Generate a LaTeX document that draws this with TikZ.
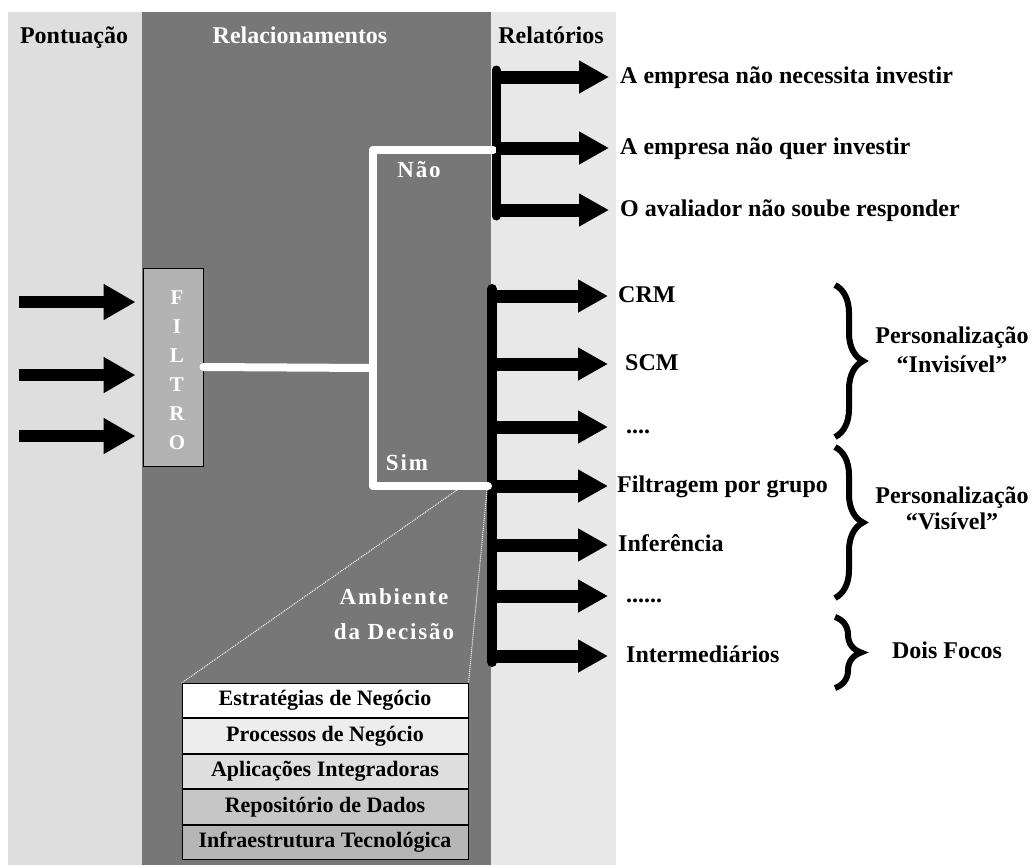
\documentclass[tikz,border=0pt]{standalone}
\usepackage{fontspec}
\setmainfont{Liberation Serif}
\usetikzlibrary{arrows.meta,decorations.pathreplacing}

\definecolor{leftbg}{HTML}{DEDEDE}
\definecolor{darkbg}{HTML}{777777}
\definecolor{rightbg}{HTML}{E8E8E8}
\definecolor{filtrofill}{HTML}{B3B3B3}
\definecolor{rowa}{HTML}{FFFFFF}
\definecolor{rowb}{HTML}{EDEDED}
\definecolor{rowc}{HTML}{DFDFDF}
\definecolor{rowd}{HTML}{C6C6C6}
\definecolor{rowe}{HTML}{B6B6B6}

\begin{document}
\begin{tikzpicture}[x=1pt,y=-1pt,
  every node/.style={font=\bfseries\fontsize{24}{27}\selectfont, inner sep=0pt},
  lbl/.style={anchor=west, text height=15pt, text depth=3pt},
  fatin/.style={line width=12pt, -{Triangle[length=32pt,width=34pt]}},
  fatout/.style={line width=13pt, -{Triangle[length=30pt,width=31pt]}},
  bus/.style={line width=9pt, line cap=round},
  wline/.style={white, line width=8pt, line cap=round},
  spaced/.style={font=\bfseries\fontsize{23}{35}\selectfont\addfontfeature{LetterSpace=8}, text=white},
  rowbox/.style={draw=black, line width=1pt, minimum width=286pt, minimum height=34.4pt,
    anchor=north, font=\bfseries\fontsize{22}{24}\selectfont},
  bracket/.style={decorate, decoration={brace, amplitude=28pt}, line width=6pt},
  zoomline/.style={white, densely dotted, line width=1pt}]

% page and the three columns
\fill[white] (0,0) rectangle (1033,865);
\fill[leftbg] (8,12) rectangle (142,865);
\fill[darkbg] (142,12) rectangle (491,865);
\fill[rightbg] (491,12) rectangle (616,865);

% column headings
\node[anchor=base] (hpont) at (74,43) {Pontuação};
\node[anchor=base, text=white] (hrel) at (300,43) {Relacionamentos};
\node[anchor=base] (hrelat) at (551,43) {Relatórios};

% filter box and its incoming scores
\node[draw=black, line width=1pt, fill=filtrofill, minimum width=60pt, minimum height=198pt] (filtro) at (173,367) {};
\node[text=white, align=center, font=\bfseries\fontsize{21}{29}\selectfont] (ftxt) at (177,370) {F\\I\\L\\T\\R\\O};

\coordinate (in1) at (19,302);
\coordinate (in2) at (19,375);
\coordinate (in3) at (19,436);
\foreach \n in {1,2,3}
  \draw[fatin, shorten >=7pt] (in\n) -- (in\n -| filtro.west);

% decision split: Não / Sim
\coordinate (jmid) at (373,368);
\coordinate (jtop) at (373,150);
\coordinate (jbot) at (373,486);
\coordinate (simend) at (488,486);

% upper bus (Não)
\coordinate (ubt) at (496,70);
\coordinate (ubb) at (496,216);
\draw[bus] (ubt) -- (ubb);

% lower bus (Sim)
\coordinate (lbt) at (492,289);
\coordinate (lbb) at (492,662);
\draw[bus, line width=10pt] (lbt) -- (lbb);

\draw[wline] (filtro.east) -- (jmid);
\draw[wline] (jtop) -- (jbot);
\draw[wline] (jtop) -- (493,150);
\draw[wline] (jbot) -- (simend);

\node[spaced] (nao) at (419,170) {Não};
\node[spaced] (sim) at (407,463) {Sim};

% outcomes of Não
\node[lbl, inner xsep=11pt] (o1) at (609,77) {A empresa não necessita investir};
\node[lbl, inner xsep=11pt] (o2) at (609,148) {A empresa não quer investir};
\node[lbl, inner xsep=11pt] (o3) at (609,210) {O avaliador não soube responder};
\foreach \n in {o1,o2,o3}
  \draw[fatout] (ubt |- \n.west) -- (\n.west);

% outcomes of Sim
\node[lbl, inner xsep=10pt] (s1) at (608,296) {CRM};
\node[lbl, inner xsep=17pt] (s2) at (608,364) {SCM};
\node[lbl, inner xsep=18pt] (s3) at (608,427) {....};
\node[lbl, inner xsep=9pt]  (s4) at (608,486) {Filtragem por grupo};
\node[lbl, inner xsep=10pt] (s5) at (608,545) {Inferência};
\node[lbl, inner xsep=18pt] (s6) at (608,596) {......};
\node[lbl, inner xsep=18pt] (s7) at (608,656) {Intermediários};
\foreach \n in {s1,s2,s3,s4,s5,s6,s7}
  \draw[fatout] (lbt |- \n.west) -- (\n.west);

% groupings
\coordinate (ba1) at (835,285);
\coordinate (bb1) at (835,437);
\coordinate (ba2) at (835,447);
\coordinate (bb2) at (835,598);
\coordinate (ba3) at (835,617);
\coordinate (bb3) at (835,688);
\draw[bracket] (ba1) -- (bb1);
\draw[bracket] (ba2) -- (bb2);
\draw[bracket, decoration={brace, amplitude=26pt}] (ba3) -- (bb3);

\node[align=center, font=\bfseries\fontsize{24}{29}\selectfont] (g1) at (952,350) {Personalização\\“Invisível”};
\node[align=center, font=\bfseries\fontsize{24}{26}\selectfont] (g2) at (952,508) {Personalização\\“Visível”};
\node (g3) at (947,650) {Dois Focos};

% decision environment
\node[spaced, align=center] (amb) at (394,614) {Ambiente\\da Decisão};

\node[rowbox, fill=rowa] (r1) at (325,683) {Estratégias de Negócio};
\node[rowbox, fill=rowb] (r2) at (r1.south) {Processos de Negócio};
\node[rowbox, fill=rowc] (r3) at (r2.south) {Aplicações Integradoras};
\node[rowbox, fill=rowd] (r4) at (r3.south) {Repositório de Dados};
\node[rowbox, fill=rowe] (r5) at (r4.south) {Infraestrutura Tecnológica};

\coordinate (zl) at (457,490);
\coordinate (zr) at (487,490);
\draw[zoomline] (zl) -- (r1.north west);
\draw[zoomline] (zr) -- (r1.north east);

\end{tikzpicture}
\end{document}
